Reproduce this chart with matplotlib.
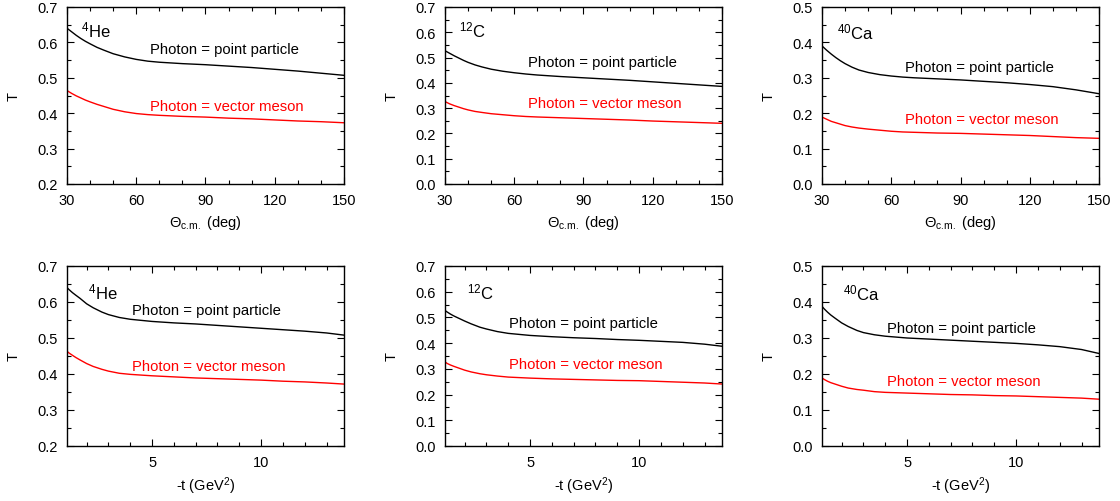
import matplotlib
matplotlib.use("Agg")
import matplotlib.pyplot as plt
from matplotlib.ticker import MultipleLocator

plt.rcParams['font.family'] = ['Liberation Sans', 'DejaVu Sans']
plt.rcParams['mathtext.fontset'] = 'custom'
plt.rcParams['mathtext.rm'] = 'Liberation Sans'
plt.rcParams['mathtext.it'] = 'Liberation Sans:italic'
plt.rcParams['mathtext.bf'] = 'Liberation Sans:bold'

# ---- data ----
theta = [30, 32, 34, 36, 38, 40, 43, 46, 50, 55, 60, 65, 70, 80, 90, 100, 110, 120, 130, 140, 150]
he_theta_point = [0.640, 0.630, 0.620, 0.611, 0.603, 0.596, 0.586, 0.578, 0.568, 0.559, 0.552, 0.547, 0.544, 0.540, 0.537, 0.533, 0.529, 0.524, 0.519, 0.513, 0.507]
he_theta_vector = [0.464, 0.456, 0.449, 0.443, 0.437, 0.432, 0.425, 0.419, 0.411, 0.404, 0.399, 0.396, 0.394, 0.391, 0.389, 0.386, 0.384, 0.381, 0.378, 0.376, 0.373]
c_theta_point = [0.527, 0.517, 0.507, 0.498, 0.489, 0.481, 0.471, 0.463, 0.454, 0.446, 0.440, 0.435, 0.431, 0.425, 0.420, 0.415, 0.410, 0.404, 0.398, 0.392, 0.386]
c_theta_vector = [0.326, 0.317, 0.310, 0.304, 0.298, 0.293, 0.287, 0.283, 0.278, 0.274, 0.270, 0.267, 0.265, 0.262, 0.259, 0.256, 0.253, 0.249, 0.246, 0.243, 0.240]
ca_theta_point = [0.390, 0.378, 0.367, 0.357, 0.348, 0.340, 0.330, 0.322, 0.315, 0.309, 0.305, 0.302, 0.300, 0.297, 0.294, 0.290, 0.286, 0.281, 0.275, 0.266, 0.255]
ca_theta_vector = [0.189, 0.183, 0.177, 0.173, 0.169, 0.165, 0.161, 0.158, 0.155, 0.152, 0.149, 0.147, 0.146, 0.144, 0.143, 0.141, 0.139, 0.137, 0.134, 0.131, 0.129]

minus_t = [1.1, 1.2, 1.35, 1.5, 1.7, 2.0, 2.3, 2.7, 3.0, 3.5, 4, 5, 6, 7, 8, 9, 10, 11, 12, 13, 13.8]
he_t_point = [0.640, 0.634, 0.626, 0.619, 0.610, 0.595, 0.584, 0.572, 0.565, 0.557, 0.552, 0.546, 0.542, 0.539, 0.535, 0.531, 0.527, 0.523, 0.519, 0.514, 0.508]
he_t_vector = [0.463, 0.458, 0.452, 0.446, 0.439, 0.429, 0.421, 0.413, 0.408, 0.402, 0.399, 0.395, 0.392, 0.389, 0.387, 0.385, 0.383, 0.380, 0.378, 0.375, 0.372]
c_t_point = [0.527, 0.521, 0.513, 0.506, 0.498, 0.486, 0.475, 0.462, 0.455, 0.445, 0.438, 0.430, 0.425, 0.421, 0.418, 0.414, 0.411, 0.407, 0.403, 0.396, 0.388]
c_t_vector = [0.327, 0.321, 0.315, 0.310, 0.304, 0.295, 0.288, 0.281, 0.277, 0.272, 0.268, 0.264, 0.261, 0.259, 0.257, 0.255, 0.254, 0.251, 0.248, 0.245, 0.241]
ca_t_point = [0.388, 0.381, 0.372, 0.364, 0.355, 0.342, 0.332, 0.321, 0.315, 0.309, 0.305, 0.300, 0.297, 0.294, 0.291, 0.288, 0.285, 0.281, 0.276, 0.268, 0.257]
ca_t_vector = [0.189, 0.185, 0.180, 0.176, 0.172, 0.166, 0.161, 0.157, 0.155, 0.151, 0.149, 0.147, 0.145, 0.143, 0.142, 0.140, 0.139, 0.137, 0.135, 0.133, 0.130]

nuclei = [r'$^{4}$He', r'$^{12}$C', r'$^{40}$Ca']
ylims = [(0.2, 0.7), (0.0, 0.7), (0.0, 0.5)]
label_point = 'Photon = point particle'
label_vector = 'Photon = vector meson'

W, H = 1120, 502
fig = plt.figure(figsize=(W / 100, H / 100), dpi=100)

lefts = [67, 445, 822]
axw = 277
tops = [(8, 185), (267, 447)]

# text positions (axes fraction)
top_txt = [((0.05, 0.875), (0.30, 0.763), (0.30, 0.44)),
           ((0.05, 0.875), (0.30, 0.69), (0.30, 0.457)),
           ((0.054, 0.86), (0.30, 0.66), (0.30, 0.367))]
bot_txt = [((0.076, 0.86), (0.235, 0.756), (0.235, 0.444)),
           ((0.08, 0.86), (0.23, 0.683), (0.23, 0.456)),
           ((0.076, 0.855), (0.235, 0.658), (0.235, 0.36))]

theta_data = [(he_theta_point, he_theta_vector), (c_theta_point, c_theta_vector), (ca_theta_point, ca_theta_vector)]
t_data = [(he_t_point, he_t_vector), (c_t_point, c_t_vector), (ca_t_point, ca_t_vector)]

fs = 10.5

def style(ax):
    ax.tick_params(which='both', direction='in', top=True, right=True, labelsize=fs, pad=6.5)
    ax.tick_params(which='major', length=5, width=0.8)
    ax.tick_params(which='minor', length=3, width=0.8)
    for s in ax.spines.values():
        s.set_linewidth(1.0)

for row in range(2):
    y0, y1 = tops[row]
    for col in range(3):
        x0 = lefts[col]
        ax = fig.add_axes([x0 / W, 1 - y1 / H, axw / W, (y1 - y0) / H])
        if row == 0:
            pt, vm = theta_data[col]
            xs = theta
            ax.set_xlim(30, 150)
            ax.xaxis.set_major_locator(MultipleLocator(30))
            ax.xaxis.set_minor_locator(MultipleLocator(10))
            ax.set_xlabel(r'$\Theta_{\rm c.\!m.}$ (deg)', fontsize=fs, labelpad=4)
            txt = top_txt[col]
        else:
            pt, vm = t_data[col]
            xs = minus_t
            ax.set_xlim(1.1, 13.8)
            ax.xaxis.set_major_locator(MultipleLocator(5))
            ax.xaxis.set_minor_locator(MultipleLocator(1))
            ax.set_xlabel(r'-t (GeV$^2$)', fontsize=fs, labelpad=4)
            txt = bot_txt[col]
        ax.plot(xs, pt, color='black', lw=1.0)
        ax.plot(xs, vm, color='red', lw=1.0)
        ax.set_ylim(*ylims[col])
        ax.yaxis.set_major_locator(MultipleLocator(0.1))
        ax.yaxis.set_minor_locator(MultipleLocator(0.05))
        ax.yaxis.set_major_formatter(plt.FuncFormatter(lambda v, p: f'{v:.1f}'))
        ax.set_ylabel('T', fontsize=fs, labelpad=12)
        style(ax)
        ax.text(txt[0][0], txt[0][1], nuclei[col], transform=ax.transAxes,
                fontsize=12, va='center', ha='left')
        ax.text(txt[1][0], txt[1][1], label_point, transform=ax.transAxes,
                fontsize=10.7, va='center', ha='left', color='black')
        ax.text(txt[2][0], txt[2][1], label_vector, transform=ax.transAxes,
                fontsize=10.7, va='center', ha='left', color='red')

fig.savefig('out.png', dpi=100)
